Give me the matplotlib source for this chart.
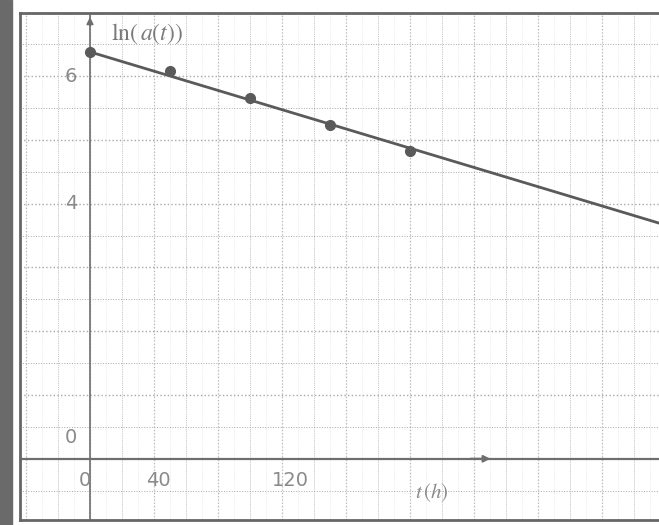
import matplotlib.pyplot as plt
from matplotlib.patches import Rectangle

# measured points (t in hours, ln of activity)
t_points = [0, 50, 100, 150, 200]
ln_points = [6.38, 6.08, 5.66, 5.24, 4.83]

# drawn straight line end points
line_t = [0, 355]
line_ln = [6.38, 3.70]

x_tick_vals = [0, 40, 120]
y_tick_vals = [6, 4, 0]

plt.rcParams['mathtext.fontset'] = 'stix'

fig = plt.figure(figsize=(6.59, 5.25), dpi=100)
fig.patches.append(Rectangle((0, 0), 12 / 659, 1, transform=fig.transFigure,
                             color='#6a6a6a', zorder=0))

ax = fig.add_axes([20 / 659, 5 / 525, 639 / 659, 507 / 525])
ax.set_xlim(-43.75, 355.6)
ax.set_ylim(-0.96, 6.99)

# graph paper
for t in range(-40, 360, 20):
    ax.axvline(t, color='#b8b8b8', lw=0.9 if t % 40 == 0 else 0.6,
               ls=':', zorder=1)
for t in range(-40, 360, 10):
    ax.axvline(t, color='#dcdcdc', lw=0.5, ls=':', zorder=0)
for v in [-0.5, 0.5, 1, 1.5, 2, 2.5, 3, 3.5, 4, 4.5, 5, 5.5, 6, 6.5]:
    ax.axhline(v, color='#a8a8a8', lw=1.0 if v == int(v) else 0.7,
               ls=':', zorder=1)

# axes with arrows
ax.axhline(0, color='#6e6e6e', lw=1.6, zorder=2)
ax.axvline(0, color='#6e6e6e', lw=1.2, zorder=2)
ax.annotate('', xy=(252, 0), xytext=(236, 0),
            arrowprops=dict(arrowstyle='-|>', color='#6e6e6e', lw=1.5), zorder=3)
ax.annotate('', xy=(0, 6.97), xytext=(0, 6.75),
            arrowprops=dict(arrowstyle='-|>', color='#6e6e6e', lw=1.2), zorder=3)

ax.plot(line_t, line_ln, color='#5a5a5a', lw=2.0, zorder=4)
ax.plot(t_points, ln_points, 'o', color='#5a5a5a', markersize=7, zorder=5)

for v in y_tick_vals:
    ax.text(-8, v + (0.33 if v == 0 else 0), str(v), ha='right', va='center',
            fontsize=14, color='#8a8a8a')
for t in x_tick_vals:
    ax.text(t + (-3 if t == 0 else 0) + (3 if t == 40 else 0) + (5 if t == 120 else 0),
            -0.34, str(t), ha='center', va='center', fontsize=14, color='#8a8a8a')

ax.text(13, 6.66, r'$\mathrm{ln}(\,a(t))$', fontsize=17, color='#7a7a7a',
        va='center')
ax.text(203, -0.53, r'$t\,(h)$', fontsize=15, color='#8a8a8a', va='center')

ax.set_xticks([])
ax.set_yticks([])
for s in ax.spines.values():
    s.set_color('#666666')
    s.set_linewidth(2)
ax.spines['right'].set_visible(False)

fig.savefig('out.png', dpi=100)
